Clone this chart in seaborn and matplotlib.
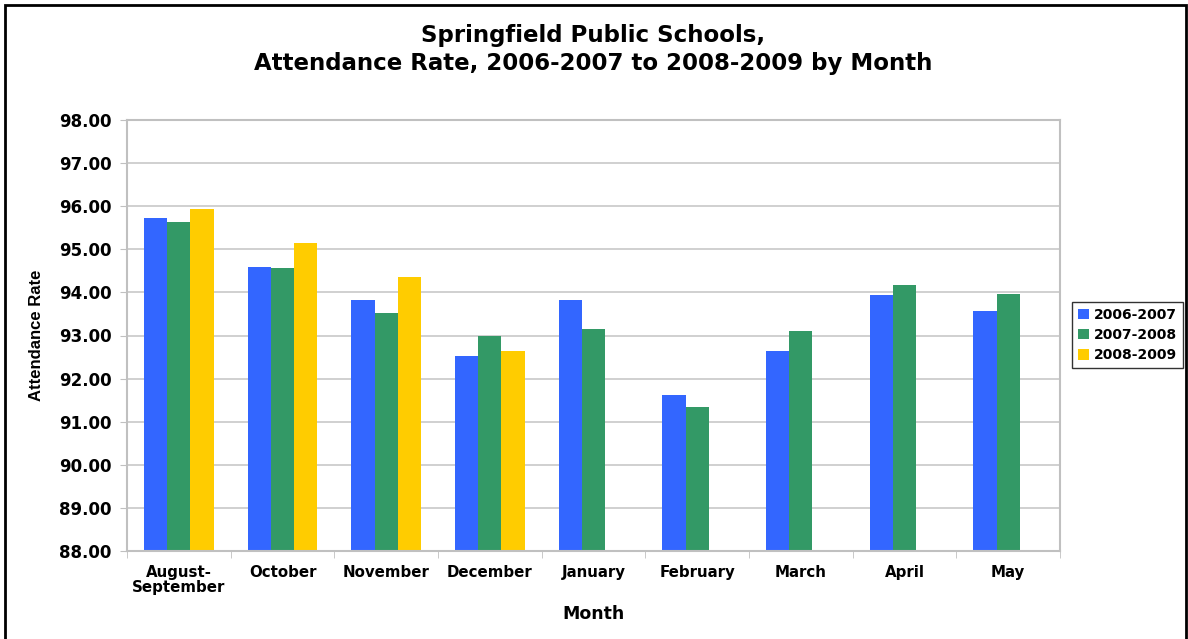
import numpy as np
import pandas as pd
import seaborn as sns
import matplotlib.pyplot as plt
from matplotlib.patches import Rectangle

# data
months = ['August-\nSeptember', 'October', 'November', 'December', 'January',
          'February', 'March', 'April', 'May']
rate_0607 = [95.72, 94.59, 93.82, 92.52, 93.82, 91.61, 92.63, 93.94, 93.57]
rate_0708 = [95.63, 94.56, 93.52, 93.00, 93.15, 91.33, 93.10, 94.17, 93.96]
rate_0809 = [95.93, 95.15, 94.36, 92.63, np.nan, np.nan, np.nan, np.nan, np.nan]
years = ['2006-2007', '2007-2008', '2008-2009']
colors = ['#3366FF', '#339966', '#FFCC00']

df = pd.DataFrame({'Month': months * 3,
                   'Rate': rate_0607 + rate_0708 + rate_0809,
                   'Year': [y for y in years for _ in months]})

plt.rcParams['font.family'] = ['DejaVu Sans']
fig = plt.figure(figsize=(11.88, 6.39), dpi=100)
ax = fig.add_axes([127 / 1188, 1 - 551 / 639, (1060 - 127) / 1188, (551 - 120) / 639])

sns.barplot(data=df, x='Month', y='Rate', hue='Year', hue_order=years,
            palette=colors, order=months, width=0.67, gap=0, saturation=1,
            ax=ax, zorder=2, legend=True)

ax.set_ylim(88, 98)
ax.set_yticks(np.arange(88, 98.01, 1))
ax.set_yticklabels([f'{v:.2f}' for v in np.arange(88, 98.01, 1)],
                   fontweight='bold', fontsize=12)
ax.set_xlim(-0.5, len(months) - 0.5)
ax.set_xticks(np.arange(len(months)))
ax.set_xticklabels(months, fontweight='bold', fontsize=10.8, linespacing=1.05)
ax.tick_params(axis='x', length=0, pad=10)
ax.set_xticks(np.arange(-0.5, len(months), 1), minor=True)
ax.tick_params(axis='x', which='minor', length=5, color='#c0c0c0')
ax.tick_params(axis='y', length=5, color='#c0c0c0', pad=6)
ax.yaxis.grid(True, color='#c8c8c8', linewidth=1.2, zorder=0)
ax.set_axisbelow(True)
for s in ax.spines.values():
    s.set_color('#c0c0c0')
    s.set_linewidth(1.5)

ax.set_xlabel('Month', fontweight='bold', fontsize=12.5, labelpad=7)
ax.set_ylabel('Attendance Rate', fontsize=12, labelpad=11,
              family='Liberation Sans', fontweight='bold')
ax.set_title('Springfield Public Schools,\nAttendance Rate, 2006-2007 to 2008-2009 by Month',
             fontweight='bold', fontsize=16.5, pad=36, linespacing=1.3)

ax.legend(loc='center left', bbox_to_anchor=(1072 / 1188, 1 - 335 / 639),
          bbox_transform=fig.transFigure, frameon=True, fancybox=False,
          edgecolor='black', prop={'weight': 'bold', 'size': 10},
          handlelength=0.8, handleheight=0.8, handletextpad=0.4,
          borderpad=0.4, labelspacing=0.45, borderaxespad=0)

fig.patches.append(Rectangle((5 / 1188, -0.01), 1181 / 1188, 1 - 5 / 639 + 0.01,
                             transform=fig.transFigure, fill=False,
                             edgecolor='black', linewidth=2))

plt.savefig('out.png', dpi=100)
